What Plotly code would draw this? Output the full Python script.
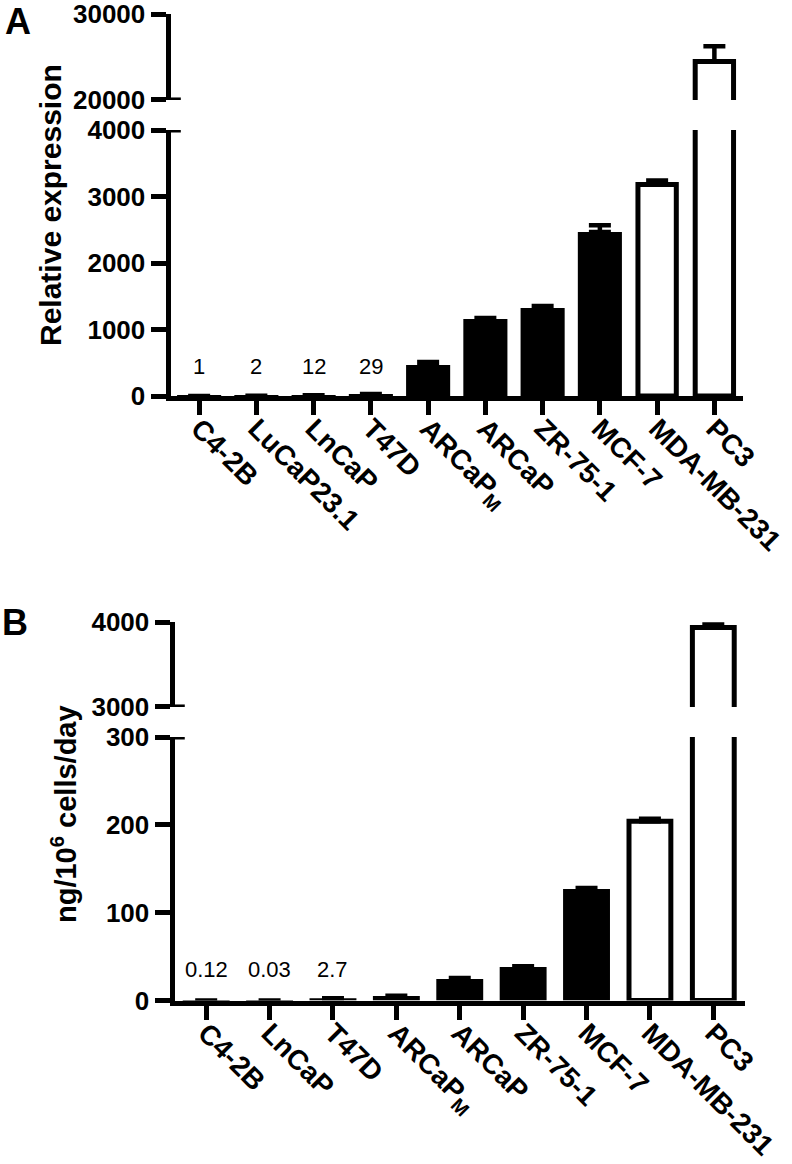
import plotly.graph_objects as go

# ---------------- data ----------------
cats_a = ["C4-2B", "LuCaP23.1", "LnCaP", "T47D", "ARCaP<sub>M</sub>", "ARCaP",
          "ZR-75-1", "MCF-7", "MDA-MB-231", "PC3"]
vals_a = [1, 2, 12, 29, 466, 1158, 1323, 2466, 3180, 24480]
err_a = [None, None, None, None, 45, 15, 30, 100, 60, 1780]
fill_a = ["black"] * 8 + ["white"] * 2
labels_a = ["1", "2", "12", "29"]

cats_b = ["C4-2B", "LnCaP", "T47D", "ARCaP<sub>M</sub>", "ARCaP", "ZR-75-1",
          "MCF-7", "MDA-MB-231", "PC3"]
vals_b = [0.12, 0.03, 2.7, 5, 24.5, 38, 127, 204, 3935]
err_b = [None, None, None, 0.5, 1, 1, 1, 3, 35]
fill_b = ["black"] * 7 + ["white"] * 2
labels_b = ["0.12", "0.03", "2.7"]

W = 792.0
H = 1164.0
FONT = "Liberation Sans, Arial, Helvetica, sans-serif"


def px(p):
    return p / W


def py(p):
    return 1 - p / H


fig = go.Figure()


def add_bars(cats, vals, errs, fills, xa, ya, wblack, wwhite):
    widths = [wblack if f == "black" else wwhite for f in fills]
    lw = [0 if f == "black" else 5 for f in fills]
    fig.add_trace(go.Bar(
        x=cats, y=vals, xaxis=xa, yaxis=ya, width=widths,
        marker=dict(color=fills, line=dict(color="black", width=lw)),
        error_y=dict(type="data", array=errs,
                     arrayminus=[None if e is None else 0 for e in errs],
                     symmetric=False, color="black", thickness=4.5, width=11),
        showlegend=False, hoverinfo="skip"))


add_bars(cats_a, vals_a, err_a, fill_a, "x", "y", 0.77, 0.67)
add_bars(cats_a, vals_a, err_a, fill_a, "x", "y2", 0.77, 0.67)
add_bars(cats_b, vals_b, err_b, fill_b, "x2", "y3", 0.74, 0.66)
add_bars(cats_b, vals_b, err_b, fill_b, "x2", "y4", 0.74, 0.66)

axis_common = dict(showline=True, linecolor="black", linewidth=5, ticks="outside",
                   tickcolor="black", tickwidth=5, showgrid=False, zeroline=False,
                   automargin=False, fixedrange=True, ticklabeloverflow="allow")
ytick_font = dict(family=FONT, size=26, color="black", weight="bold")
xtick_font = dict(family=FONT, size=28, color="black", weight="bold")

fig.update_layout(
    width=int(W), height=int(H), margin=dict(l=0, r=0, t=0, b=0),
    paper_bgcolor="white", plot_bgcolor="white",
    xaxis=dict(domain=[px(170.5), px(743)], anchor="y", type="category",
               range=[-0.5, 9.5], tickangle=45, ticklen=14, tickfont=xtick_font,
               ticklabelstandoff=-14, **axis_common),
    yaxis=dict(domain=[py(396), py(130)], anchor="x", range=[0, 4000],
               tickvals=[0, 1000, 2000, 3000, 4000], ticklen=15,
               tickfont=ytick_font, **axis_common),
    yaxis2=dict(domain=[py(100), py(14)], anchor="x", range=[19995, 30005],
                tickvals=[20000, 30000], ticktext=["20000", "30000"], ticklen=15,
                tickfont=ytick_font, **axis_common),
    xaxis2=dict(domain=[px(174.5), px(745)], anchor="y3", type="category",
                range=[-0.5, 8.5], tickangle=45, ticklen=14, tickfont=xtick_font,
                ticklabelstandoff=-14, **axis_common),
    yaxis3=dict(domain=[py(1000.5), py(737)], anchor="x2", range=[0, 300],
                tickvals=[0, 100, 200, 300], ticklen=15, tickfont=ytick_font,
                **axis_common),
    yaxis4=dict(domain=[py(707), py(622)], anchor="x2", range=[2999.5, 4000.5],
                tickvals=[3000, 4000], ticktext=["3000", "4000"], ticklen=15,
                tickfont=ytick_font, **axis_common),
)

# axis-break marks (extend the break ticks to the right of the axis)
for xr, yr, yv in [("x domain", "y2", 20000), ("x domain", "y", 4000),
                   ("x2 domain", "y4", 3000), ("x2 domain", "y3", 300)]:
    fig.add_shape(type="line", xref=xr, yref=yr, x0=-0.004, x1=0.018, y0=yv, y1=yv,
                  line=dict(color="black", width=5))

# small value labels
for c, t in zip(cats_a, labels_a):
    fig.add_annotation(x=c, y=440, xref="x", yref="y", text=t, showarrow=False,
                       font=dict(family=FONT, size=22, color="black"),
                       xanchor="center", yanchor="middle")
for c, t in zip(cats_b, labels_b):
    fig.add_annotation(x=c, y=35, xref="x2", yref="y3", text=t, showarrow=False,
                       font=dict(family=FONT, size=22, color="black"),
                       xanchor="center", yanchor="middle")

# y-axis titles
fig.add_annotation(x=px(50), y=py(205), xref="paper", yref="paper",
                   text="Relative expression", textangle=-90, showarrow=False,
                   font=dict(family=FONT, size=30, color="black", weight="bold"),
                   xanchor="center", yanchor="middle")
fig.add_annotation(x=px(64), y=py(814), xref="paper", yref="paper",
                   text="ng/10<sup>6</sup> cells/day", textangle=-90, showarrow=False,
                   font=dict(family=FONT, size=29, color="black", weight="bold"),
                   xanchor="center", yanchor="middle")

# panel letters
fig.add_annotation(x=px(18), y=py(21), xref="paper", yref="paper", text="A",
                   showarrow=False, font=dict(family=FONT, size=36, color="black", weight="bold"),
                   xanchor="center", yanchor="middle")
fig.add_annotation(x=px(15), y=py(622), xref="paper", yref="paper", text="B",
                   showarrow=False, font=dict(family=FONT, size=36, color="black", weight="bold"),
                   xanchor="center", yanchor="middle")

fig.write_html("out.html", config={"displayModeBar": False},
               post_script="document.body.style.margin='0px';"
                           "document.body.style.overflow='hidden';")
